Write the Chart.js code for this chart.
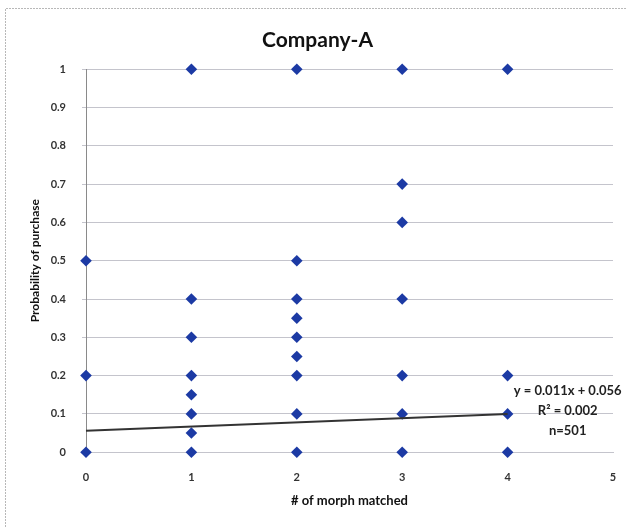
<!DOCTYPE html>
<html>
<head>
<meta charset="utf-8">
<script src="https://cdn.jsdelivr.net/npm/chart.js@4/dist/chart.umd.min.js"></script>
<style>
  html, body { margin: 0; padding: 0; background: #fff; }
  #wrap { width: 626px; height: 527px; position: relative; }
</style>
</head>
<body>
<div id="wrap"><canvas id="chart" width="626" height="527"></canvas></div>
<script>
// # of morph matched (x) and probability of purchase (y), one entry per marker
const morphMatched = [0, 0, 0,
  1, 1, 1, 1, 1, 1, 1, 1,
  2, 2, 2, 2, 2, 2, 2, 2, 2,
  3, 3, 3, 3, 3, 3, 3,
  4, 4, 4, 4];
const purchaseProb = [0, 0.2, 0.5,
  0, 0.05, 0.1, 0.15, 0.2, 0.3, 0.4, 1,
  0, 0.1, 0.2, 0.25, 0.3, 0.35, 0.4, 0.5, 1,
  0, 0.1, 0.2, 0.4, 0.6, 0.7, 1,
  0, 0.1, 0.2, 1];

// linear trendline from the reference
const trendSlope = 0.011;
const trendIntercept = 0.056;
const trendRange = [0, 4];
const trendLabels = ["y = 0.011x + 0.056", "R\u00B2 = 0.002", "n=501"];

const xTicks = [0, 1, 2, 3, 4, 5];
const yTicks = [0, 0.1, 0.2, 0.3, 0.4, 0.5, 0.6, 0.7, 0.8, 0.9, 1];

const points = morphMatched.map((x, i) => ({ x: x, y: purchaseProb[i] }));
const trendPoints = trendRange.map(x => ({ x: x, y: trendSlope * x + trendIntercept }));

const FONT = "Lato, 'Open Sans', sans-serif";

const frame = {
  id: "frame",
  beforeDraw(chart) {
    const ctx = chart.ctx;
    ctx.save();
    ctx.fillStyle = "#fff";
    ctx.fillRect(0, 0, chart.width, chart.height);
    ctx.strokeStyle = "#b8b8b8";
    ctx.lineWidth = 1;
    ctx.setLineDash([2, 1]);
    ctx.beginPath();
    ctx.moveTo(5.5, chart.height);
    ctx.lineTo(5.5, 8.5);
    ctx.lineTo(chart.width, 8.5);
    ctx.stroke();
    ctx.restore();
  }
};

const trendText = {
  id: "trendText",
  afterDraw(chart) {
    const ctx = chart.ctx;
    const xs = chart.scales.x;
    const ys = chart.scales.y;
    const cx = xs.getPixelForValue(4.57);
    const y0 = ys.getPixelForValue(0.16);
    ctx.save();
    ctx.font = "bold 13px " + FONT;
    ctx.fillStyle = "#222";
    ctx.textAlign = "center";
    ctx.textBaseline = "middle";
    trendLabels.forEach((t, i) => ctx.fillText(t, cx, y0 + i * 20));
    ctx.restore();
  }
};

new Chart(document.getElementById("chart"), {
  type: "scatter",
  data: {
    datasets: [
      {
        label: "Company-A",
        data: points,
        pointStyle: "rectRot",
        pointRadius: 5.8,
        pointHoverRadius: 5.8,
        backgroundColor: "#1c3aa4",
        borderColor: "#1c3aa4",
        borderWidth: 0,
        clip: false,
        order: 1
      },
      {
        type: "line",
        label: "Trend",
        data: trendPoints,
        borderColor: "#333",
        borderWidth: 2,
        pointRadius: 0,
        fill: false,
        clip: false,
        order: 0
      }
    ]
  },
  options: {
    responsive: false,
    animation: false,
    layout: { padding: { left: 22, right: 13, top: 6, bottom: 14 } },
    plugins: {
      legend: { display: false },
      tooltip: { enabled: false },
      title: {
        display: true,
        text: "Company-A",
        color: "#111",
        font: { family: FONT, size: 21, weight: "bold" },
        padding: { top: 22, bottom: 16 }
      }
    },
    scales: {
      x: {
        type: "linear",
        min: 0,
        max: 5,
        afterBuildTicks: s => { s.ticks = xTicks.map(v => ({ value: v })); },
        grid: { display: false, drawTicks: true, tickLength: 16 },
        border: { display: true, color: "#c4c4cc" },
        ticks: {
          padding: 3,
          color: "#333",
          font: { family: FONT, size: 11, weight: "bold" }
        },
        title: {
          display: true,
          text: "# of morph matched",
          color: "#111",
          font: { family: FONT, size: 13, weight: "bold" },
          padding: { top: 6, bottom: 4 }
        }
      },
      y: {
        min: 0,
        max: 1,
        afterBuildTicks: s => { s.ticks = yTicks.map(v => ({ value: v })); },
        afterFit: s => { s.width = 64; },
        grid: { color: "#c4c4cc", tickLength: 4, drawTicks: true },
        border: { display: true, color: "#8a8a8a" },
        ticks: {
          padding: 16,
          color: "#333",
          font: { family: FONT, size: 11, weight: "bold" },
          callback: v => String(Math.round(v * 10) / 10)
        },
        title: {
          display: true,
          text: "Probability of purchase",
          color: "#111",
          font: { family: FONT, size: 12, weight: "bold" },
          padding: { top: 6, bottom: 0 }
        }
      }
    }
  },
  plugins: [frame, trendText]
});
</script>
</body>
</html>
